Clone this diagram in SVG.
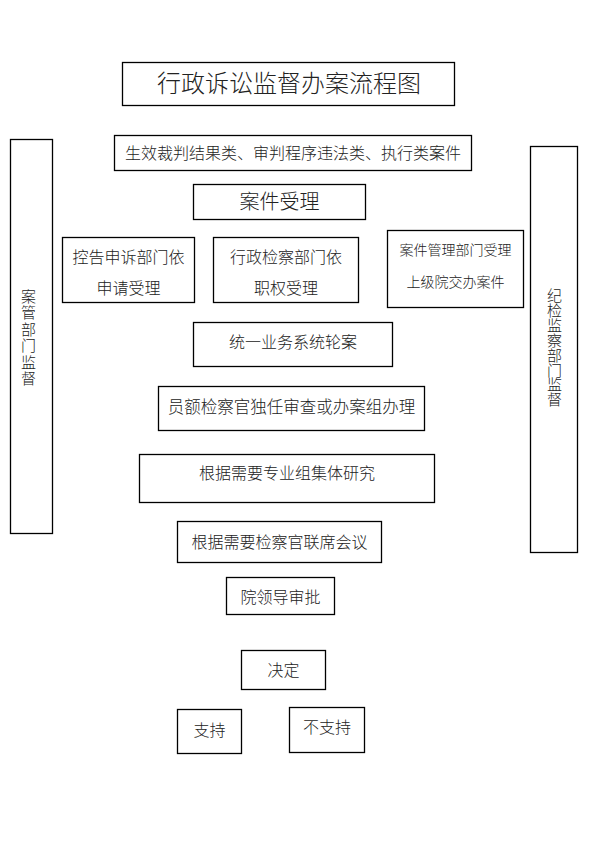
<svg xmlns="http://www.w3.org/2000/svg" width="600" height="848" viewBox="0 0 600 848">
<style>
rect{fill:#fff;stroke:#000;stroke-width:1.3}
text{font-family:"Liberation Serif","Noto Sans CJK SC",serif;font-weight:300;fill:#222;text-anchor:middle;dominant-baseline:central}
.s16{font-size:16px}
.s14{font-size:14px}
.v{font-size:15px}
</style>
<rect width="600" height="848" style="stroke:none"/>
<g id="title"><rect x="122.5" y="62.5" width="332" height="43"/><text x="289" y="84" style="font-size:24px">行政诉讼监督办案流程图</text></g>
<g id="n-cases"><rect x="114.5" y="135.5" width="357" height="35"/><text class="s16" x="293" y="153">生效裁判结果类、审判程序违法类、执行类案件</text></g>
<g id="n-accept"><rect x="193.5" y="184.5" width="172" height="35"/><text x="279.5" y="202" style="font-size:20px">案件受理</text></g>
<g id="n-complaint"><rect x="62.5" y="237.5" width="132" height="65"/><text class="s16" x="128.5" y="257">控告申诉部门依</text><text class="s16" x="128.5" y="288">申请受理</text></g>
<g id="n-admin"><rect x="213.5" y="237.5" width="145" height="65"/><text class="s16" x="286" y="257">行政检察部门依</text><text class="s16" x="286" y="288">职权受理</text></g>
<g id="n-mgmt"><rect x="387.5" y="230.5" width="136" height="77"/><text class="s14" x="455.5" y="250">案件管理部门受理</text><text class="s14" x="455.5" y="282">上级院交办案件</text></g>
<g id="n-assign"><rect x="193.5" y="322.5" width="199" height="44"/><text class="s16" x="293" y="342">统一业务系统轮案</text></g>
<g id="n-prosecutor"><rect x="158.5" y="386.5" width="266" height="44"/><text x="291.5" y="407" style="font-size:16.5px">员额检察官独任审查或办案组办理</text></g>
<g id="n-group"><rect x="139.5" y="454.5" width="295" height="48"/><text class="s16" x="287" y="473">根据需要专业组集体研究</text></g>
<g id="n-joint"><rect x="177.5" y="521.5" width="204" height="41"/><text class="s16" x="279.5" y="542">根据需要检察官联席会议</text></g>
<g id="n-leader"><rect x="226.5" y="577.5" width="108" height="37"/><text class="s16" x="280.5" y="597">院领导审批</text></g>
<g id="n-decide"><rect x="241.5" y="650.5" width="84" height="39"/><text class="s16" x="283.5" y="670">决定</text></g>
<g id="n-support"><rect x="177.5" y="709.5" width="64" height="44"/><text class="s16" x="209.5" y="730">支持</text></g>
<g id="n-nosupport"><rect x="289.5" y="707.5" width="75" height="45"/><text class="s16" x="327" y="727">不支持</text></g>
<g id="n-left"><rect x="10.5" y="139.5" width="42" height="394"/>
<text class="v" x="28.5" y="297">案</text><text class="v" x="28.5" y="313.4">管</text><text class="v" x="28.5" y="329.8">部</text><text class="v" x="28.5" y="346.2">门</text><text class="v" x="28.5" y="362.6">监</text><text class="v" x="28.5" y="379">督</text></g>
<g id="n-right"><rect x="530.5" y="146.5" width="47" height="406"/>
<text class="v" x="554.5" y="296">纪</text><text class="v" x="554.5" y="310.9">检</text><text class="v" x="554.5" y="325.8">监</text><text class="v" x="554.5" y="340.7">察</text><text class="v" x="554.5" y="355.6">部</text><text class="v" x="554.5" y="370.5">门</text><text class="v" x="554.5" y="385.4">监</text><text class="v" x="554.5" y="400.3">督</text></g>
<g id="connectors"></g>
</svg>
